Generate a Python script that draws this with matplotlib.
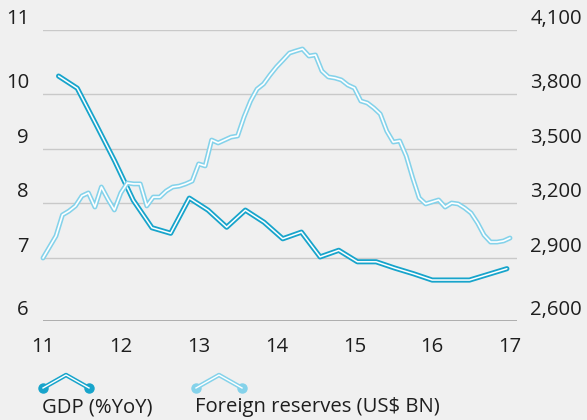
import numpy as np
import matplotlib
matplotlib.use("Agg")
import matplotlib.pyplot as plt
from matplotlib.lines import Line2D

# ---------------- data ----------------
gdp_x = [11.2, 11.44, 11.68, 11.92, 12.16, 12.4, 12.64, 12.88, 13.12, 13.36,
         13.6, 13.84, 14.08, 14.32, 14.56, 14.8, 15.04, 15.28, 15.52, 15.76,
         16.0, 16.24, 16.48, 16.72, 16.96]
gdp = [10.28, 10.09, 9.45, 8.78, 8.05, 7.55, 7.45, 8.09, 7.87, 7.56,
       7.87, 7.65, 7.35, 7.47, 7.02, 7.14, 6.94, 6.94, 6.84, 6.75,
       6.65, 6.65, 6.65, 6.74, 6.83]

reserves = [2900, 2960, 3020, 3135, 3156, 3184, 3239, 3256, 3178, 3289, 3222, 3162,
            3256, 3311, 3306, 3306, 3184, 3233, 3233, 3267, 3289, 3294, 3306, 3322,
            3417, 3406, 3549, 3533, 3549, 3565, 3571, 3675, 3762, 3823, 3847, 3889,
            3927, 3959, 3992, 4002, 4011, 3978, 3983, 3908, 3880, 3875, 3866, 3842,
            3828, 3762, 3751, 3724, 3691, 3598, 3538, 3544, 3461, 3339, 3228, 3195,
            3206, 3217, 3178, 3200, 3195, 3173, 3145, 3091, 3025, 2987, 2987, 2993,
            3009]
res_x = 11 + np.arange(len(reserves)) / 12.0

left_ticks = [6, 7, 8, 9, 10, 11]
right_ticks = [2600, 2900, 3200, 3500, 3800, 4100]
x_ticks = [11, 12, 13, 14, 15, 16, 17]
x_labels = ["11", "12", "13", "14", "15", "16", "17"]
legend_labels = ["GDP (%YoY)", "Foreign reserves (US$ BN)"]

# ---------------- style ----------------
BG = "#f0f0f0"
C_GDP = "#17a4cb"
C_RES = "#84d2ea"
TXT = "#1e1e1e"
GRID = "#c9c9c9"
FONT = "Open Sans"
FS = 14.6

# gridline positions in the original chart are not evenly spaced
grid_pos = [0, 63, 118, 172, 227, 291]

def fwd_l(v):
    return np.interp(v, left_ticks, grid_pos)

def inv_l(p):
    return np.interp(p, grid_pos, left_ticks)

def fwd_r(v):
    return np.interp(v, right_ticks, grid_pos)

def inv_r(p):
    return np.interp(p, grid_pos, right_ticks)

W, H = 587, 420
fig = plt.figure(figsize=(W / 100, H / 100), dpi=100, facecolor=BG)
ax = fig.add_axes([43 / W, 99 / H, 474 / W, 291 / H])
ax.set_facecolor(BG)
ax.set_yscale("function", functions=(fwd_l, inv_l))
ax.set_ylim(6, 11)
ax.set_xlim(11, 17.09)

ax2 = ax.twinx()
ax2.set_yscale("function", functions=(fwd_r, inv_r))
ax2.set_ylim(2600, 4100)

for a in (ax, ax2):
    for s in a.spines.values():
        s.set_visible(False)
    a.tick_params(left=False, right=False, bottom=False, top=False,
                  labelleft=False, labelright=False, labelbottom=False)
    a.set_yticks([])
    a.set_xticks([])

for t in left_ticks:
    ax.axhline(t, color=GRID if t != 6 else "#a8a8a8", lw=1.0 if t != 6 else 1.3,
               zorder=1)

def double_line(a, x, y, c, wo=3.7, wi=1.1, z=3):
    a.plot(x, y, color=c, lw=wo, solid_capstyle="round", solid_joinstyle="round",
           zorder=z, clip_on=False)
    a.plot(x, y, color="white", lw=wi, solid_capstyle="round",
           solid_joinstyle="round", zorder=z + 0.1, clip_on=False)

double_line(ax, gdp_x, gdp, C_GDP)
double_line(ax2, res_x, reserves, C_RES, wo=3.5, wi=1.2)

# tick labels
ytr = ax.get_yaxis_transform()
for t in left_ticks:
    ax.annotate(f"{t}", xy=(0, t), xycoords=ytr, xytext=(-14, 11),
                textcoords="offset pixels", ha="right", va="center",
                fontsize=FS, family=FONT, color=TXT)
ytr2 = ax2.get_yaxis_transform()
for t in right_ticks:
    ax2.annotate(f"{t:,}", xy=(1, t), xycoords=ytr2, xytext=(65, 11),
                 textcoords="offset pixels", ha="right", va="center",
                 fontsize=FS, family=FONT, color=TXT)
xtr = ax.get_xaxis_transform()
for t, lab in zip(x_ticks, x_labels):
    ax.annotate(lab, xy=(t, 0), xycoords=xtr, xytext=(0, -26),
                textcoords="offset pixels", ha="center", va="center",
                fontsize=FS, family=FONT, color=TXT)

# legend
def px(x, y):
    return x / W, (H - y) / H

for x0, c, lab in [(43, C_GDP, legend_labels[0]), (196, C_RES, legend_labels[1])]:
    xs = [x0, x0 + 23, x0 + 46]
    ys = [388, 375, 388]
    fx = [px(a, b)[0] for a, b in zip(xs, ys)]
    fy = [px(a, b)[1] for a, b in zip(xs, ys)]
    fig.add_artist(Line2D(fx, fy, color=c, lw=3.2, transform=fig.transFigure,
                          solid_joinstyle="round"))
    fig.add_artist(Line2D([fx[0], fx[-1]], [fy[0], fy[-1]], ls="none",
                          marker="o", ms=6.5, mfc=c, mec=c,
                          transform=fig.transFigure))
    fig.add_artist(Line2D(fx, fy, color="white", lw=1.0, transform=fig.transFigure))
    fig.text(*px(x0 - 1, 407), lab, ha="left", va="center", fontsize=FS,
             family=FONT, color=TXT)

fig.savefig("out.png", dpi=100, facecolor=BG)
